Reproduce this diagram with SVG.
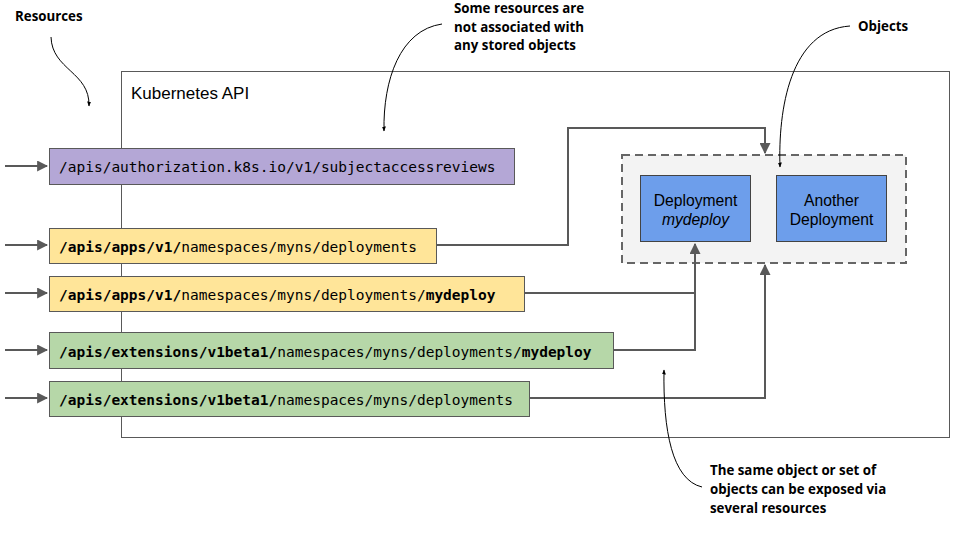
<svg xmlns="http://www.w3.org/2000/svg" width="960" height="540" viewBox="0 0 960 540">
<style>
.mono{font-family:"DejaVu Sans Mono","Liberation Mono",monospace;font-size:14.5px;fill:#000}
.b{font-weight:bold}
.note{font-family:"Open Sans","Liberation Sans",sans-serif;font-size:13.3px;font-weight:bold;fill:#000}
.obj{font-family:"Liberation Sans",Arial,sans-serif;font-size:15.7px;fill:#000;text-anchor:middle}
.res{stroke:#595959;stroke-width:1}
.conn{fill:none;stroke:#595959;stroke-width:2}
.ann{fill:none;stroke:#000;stroke-width:1}
</style>
<defs>
<marker id="ah" viewBox="0 0 10 10" refX="9" refY="5" markerWidth="5.5" markerHeight="5.5" orient="auto" markerUnits="strokeWidth">
<path d="M0,0 L10,5 L0,10 z" fill="#595959"/>
</marker>
<marker id="sa" viewBox="0 0 10 10" refX="9" refY="5" markerWidth="5" markerHeight="5" orient="auto" markerUnits="strokeWidth">
<path d="M0,1 L10,5 L0,9 z" fill="#000"/>
</marker>
</defs>
<rect width="960" height="540" fill="#fff"/>
<g id="api">
<rect x="121.5" y="71.5" width="828" height="366" fill="#fff" stroke="#595959" stroke-width="1"/>
<text x="131" y="99" font-family="Liberation Sans,Arial,sans-serif" font-size="17" fill="#000">Kubernetes API</text>
</g>
<g id="objects">
<rect x="622" y="155" width="284" height="108" fill="#f3f3f3" stroke="#666" stroke-width="2" stroke-dasharray="8,5"/>
</g>
<g id="deploy1">
<rect x="640.5" y="175.5" width="110" height="66" fill="#6d9eeb" stroke="#434343" stroke-width="1"/>
<text class="obj" x="695.5" y="206">Deployment</text>
<text class="obj" x="695.5" y="225" font-style="italic">mydeploy</text>
</g>
<g id="deploy2">
<rect x="776.5" y="175.5" width="110" height="66" fill="#6d9eeb" stroke="#434343" stroke-width="1"/>
<text class="obj" x="831.5" y="206">Another</text>
<text class="obj" x="831.5" y="225">Deployment</text>
</g>
<g id="connectors">
<path class="conn" d="M5,166 H47" marker-end="url(#ah)"/>
<path class="conn" d="M5,245 H47" marker-end="url(#ah)"/>
<path class="conn" d="M5,293 H47" marker-end="url(#ah)"/>
<path class="conn" d="M5,350 H47" marker-end="url(#ah)"/>
<path class="conn" d="M5,398 H47" marker-end="url(#ah)"/>
<path class="conn" d="M436,245 H568 V128 H765 V153" marker-end="url(#ah)"/>
<path class="conn" d="M524,293 H695 V244" marker-end="url(#ah)"/>
<path class="conn" d="M613,350 H695 V293"/>
<path class="conn" d="M529,398 H765 V265" marker-end="url(#ah)"/>
</g>
<g id="r1">
<rect class="res" x="49.5" y="148.5" width="465" height="36" fill="#b4a7d6"/>
<text class="mono" x="59" y="172">/apis/authorization.k8s.io/v1/subjectaccessreviews</text>
</g>
<g id="r2">
<rect class="res" x="49.5" y="228.5" width="387" height="35" fill="#ffe599"/>
<text class="mono" x="59" y="252"><tspan class="b">/apis/apps/v1/</tspan>namespaces/myns/deployments</text>
</g>
<g id="r3">
<rect class="res" x="49.5" y="276.5" width="475" height="35" fill="#ffe599"/>
<text class="mono" x="59" y="300"><tspan class="b">/apis/apps/v1/</tspan>namespaces/myns/deployments/<tspan class="b">mydeploy</tspan></text>
</g>
<g id="r4">
<rect class="res" x="49.5" y="332.5" width="564" height="36" fill="#b6d7a8"/>
<text class="mono" x="59" y="357"><tspan class="b">/apis/extensions/v1beta1/</tspan>namespaces/myns/deployments/<tspan class="b">mydeploy</tspan></text>
</g>
<g id="r5">
<rect class="res" x="49.5" y="381.5" width="480" height="35" fill="#b6d7a8"/>
<text class="mono" x="59" y="405"><tspan class="b">/apis/extensions/v1beta1/</tspan>namespaces/myns/deployments</text>
</g>
<g id="annotations">
<text class="note" x="15" y="21">Resources</text>
<path class="ann" d="M51,37 C52,70 90,72 89,106" marker-end="url(#sa)"/>
<text class="note" x="454" y="13">Some resources are</text>
<text class="note" x="454" y="32">not associated with</text>
<text class="note" x="454" y="50">any stored objects</text>
<path class="ann" d="M442,24 C400,30 383,80 384,131" marker-end="url(#sa)"/>
<text class="note" x="858" y="31">Objects</text>
<path class="ann" d="M850,26 C790,30 778,110 780,167" marker-end="url(#sa)"/>
<text class="note" x="710" y="475">The same object or set of</text>
<text class="note" x="710" y="494">objects can be exposed via</text>
<text class="note" x="710" y="513">several resources</text>
<path class="ann" d="M702,487 C672,480 663,430 664,370" marker-end="url(#sa)"/>
</g>
</svg>
